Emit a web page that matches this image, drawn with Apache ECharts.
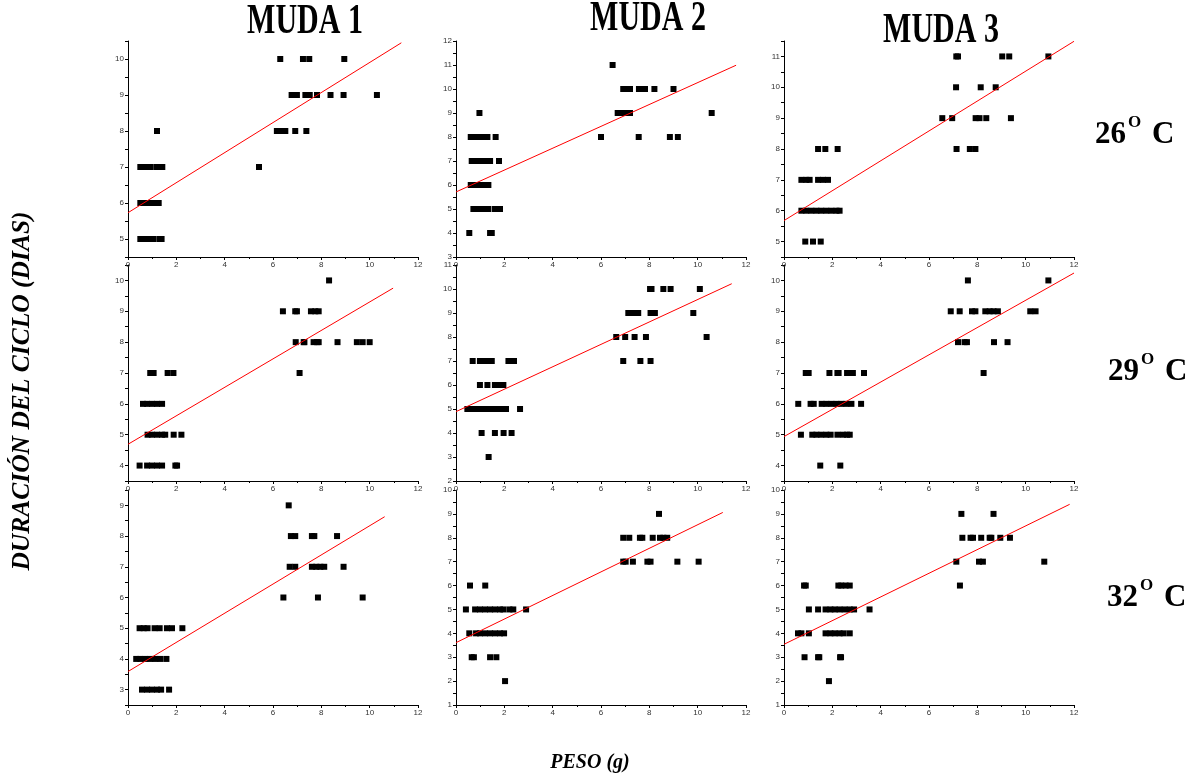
<!DOCTYPE html>
<html>
<head>
<meta charset="utf-8">
<script src="https://cdn.jsdelivr.net/npm/echarts@6/dist/echarts.min.js"></script>
<style>html,body{margin:0;padding:0;background:#fff}#c{width:1202px;height:782px}</style>
</head>
<body>
<div id="c"></div>
<script>
// ---- titles ----
const colTitles = ['MUDA 1', 'MUDA 2', 'MUDA 3'];
const rowTitles = ['26', '29', '32'];
const xTitle = 'PESO (g)';
const yTitle = 'DURACIÓN DEL CICLO (DIAS)';

// ---- axis ranges (per panel, row-major) ----
const xRange = [0, 12];
const yRanges = [[4.5, 10.5], [3, 12], [4.5, 11.5], [3.5, 10.5], [2, 11], [3.5, 10.5], [2.5, 9.5], [1, 10], [1, 10]];

// ---- data: [peso, duracion] ----
const m1t26 = [
  [6.30,10],[7.24,10],[7.50,10],[8.95,10],
  [6.77,9],[6.99,9],[7.34,9],[7.52,9],[7.82,9],[8.38,9],[8.92,9],[10.30,9],
  [1.20,8],[6.16,8],[6.30,8],[6.51,8],[6.92,8],[7.38,8],
  [0.51,7],[0.65,7],[0.79,7],[0.92,7],[1.17,7],[1.34,7],[1.42,7],[5.42,7],
  [0.51,6],[0.65,6],[0.79,6],[0.92,6],[1.06,6],[1.27,6],
  [0.51,5],[0.65,5],[0.79,5],[0.92,5],[1.06,5],[1.31,5],[1.39,5]
];
const m2t26 = [
  [6.48,11],
  [6.92,10],[7.13,10],[7.20,10],[7.57,10],[7.75,10],[7.82,10],[8.21,10],[9.00,10],
  [0.97,9],[6.69,9],[6.85,9],[6.99,9],[7.20,9],[10.58,9],
  [0.61,8],[0.79,8],[0.99,8],[1.20,8],[1.30,8],[1.64,8],[6.00,8],[7.56,8],[8.85,8],[9.18,8],
  [0.65,7],[0.86,7],[1.06,7],[1.27,7],[1.41,7],[1.78,7],
  [0.61,6],[0.79,6],[0.99,6],[1.20,6],[1.34,6],
  [0.72,5],[0.92,5],[1.13,5],[1.34,5],[1.61,5],[1.82,5],
  [0.55,4],[1.41,4],[1.48,4]
];
const m3t26 = [
  [7.13,11],[7.20,11],[9.03,11],[9.32,11],[10.94,11],
  [7.12,10],[8.14,10],[8.76,10],
  [6.55,9],[6.96,9],[7.93,9],[8.09,9],[8.37,9],[9.39,9],
  [1.41,8],[1.71,8],[2.22,8],[7.14,8],[7.69,8],[7.92,8],
  [0.72,7],[0.92,7],[1.06,7],[1.41,7],[1.61,7],[1.82,7],
  [0.72,6],[0.92,6],[1.13,6],[1.34,6],[1.54,6],[1.75,6],[1.96,6],[2.17,6],[2.30,6],
  [0.88,5],[1.20,5],[1.52,5]
];
const m1t29 = [
  [8.32,10],
  [6.41,9],[6.92,9],[6.99,9],[7.57,9],[7.75,9],[7.89,9],
  [6.94,8],[7.27,8],[7.30,8],[7.68,8],[7.82,8],[7.89,8],[8.67,8],[9.47,8],[9.71,8],[10.00,8],
  [0.92,7],[1.06,7],[1.64,7],[1.88,7],[7.10,7],
  [0.62,6],[0.79,6],[1.00,6],[1.20,6],[1.41,6],
  [0.81,5],[0.99,5],[1.20,5],[1.41,5],[1.54,5],[1.89,5],[2.21,5],
  [0.48,4],[0.79,4],[0.99,4],[1.20,4],[1.41,4],[1.96,4],[2.03,4]
];
const m2t29 = [
  [8.03,10],[8.09,10],[8.58,10],[8.88,10],[10.09,10],
  [7.13,9],[7.27,9],[7.41,9],[7.54,9],[8.05,9],[8.23,9],[9.82,9],
  [6.63,8],[7.00,8],[7.39,8],[7.86,8],[10.37,8],
  [0.69,7],[0.99,7],[1.13,7],[1.34,7],[1.48,7],[2.17,7],[2.40,7],[6.92,7],[7.63,7],[8.05,7],
  [0.99,6],[1.30,6],[1.61,6],[1.82,6],[1.96,6],
  [0.47,5],[0.65,5],[0.86,5],[1.06,5],[1.27,5],[1.48,5],[1.68,5],[1.89,5],[2.07,5],[2.65,5],
  [1.06,4],[1.61,4],[1.97,4],[2.30,4],
  [1.35,3]
];
const m3t29 = [
  [7.61,10],[10.94,10],
  [6.90,9],[7.27,9],[7.78,9],[7.92,9],[8.33,9],[8.51,9],[8.67,9],[8.85,9],[10.19,9],[10.41,9],
  [7.20,8],[7.47,8],[7.57,8],[8.69,8],[9.25,8],
  [0.90,7],[1.02,7],[1.88,7],[2.21,7],[2.26,7],[2.61,7],[2.85,7],[3.31,7],[8.26,7],
  [0.59,6],[1.10,6],[1.23,6],[1.56,6],[1.75,6],[1.96,6],[2.17,6],[2.37,6],[2.58,6],[2.79,6],[3.19,6],
  [0.70,5],[1.17,5],[1.34,5],[1.54,5],[1.75,5],[1.93,5],[2.21,5],[2.44,5],[2.61,5],[2.72,5],
  [1.50,4],[2.33,4]
];
const m1t32 = [
  [6.65,9],
  [6.74,8],[6.92,8],[7.61,8],[7.71,8],[8.65,8],
  [6.69,7],[6.92,7],[7.61,7],[7.79,7],[7.96,7],[8.12,7],[8.92,7],
  [6.43,6],[7.86,6],[9.71,6],
  [0.48,5],[0.65,5],[0.81,5],[1.10,5],[1.31,5],[1.61,5],[1.82,5],[2.25,5],
  [0.34,4],[0.51,4],[0.72,4],[0.92,4],[1.13,4],[1.34,4],[1.59,4],
  [0.58,3],[0.79,3],[0.99,3],[1.20,3],[1.37,3],[1.70,3]
];
const m2t32 = [
  [8.40,9],
  [6.92,8],[7.17,8],[7.61,8],[7.71,8],[8.14,8],[8.44,8],[8.58,8],[8.74,8],
  [6.92,7],[7.02,7],[7.32,7],[7.92,7],[8.05,7],[9.16,7],[10.04,7],
  [0.58,6],[1.21,6],
  [0.41,5],[0.79,5],[0.99,5],[1.20,5],[1.41,5],[1.61,5],[1.82,5],[1.96,5],[2.21,5],[2.37,5],[2.90,5],
  [0.55,4],[0.83,4],[0.99,4],[1.20,4],[1.41,4],[1.61,4],[1.82,4],[1.99,4],
  [0.65,3],[0.74,3],[1.41,3],[1.67,3],
  [2.03,2]
];
const m3t32 = [
  [7.34,9],[8.67,9],
  [7.38,8],[7.72,8],[7.82,8],[8.16,8],[8.51,8],[8.58,8],[8.95,8],[9.35,8],
  [7.13,7],[8.07,7],[8.23,7],[10.77,7],
  [0.83,6],[0.90,6],[2.25,6],[2.37,6],[2.55,6],[2.72,6],[7.28,6],
  [1.03,5],[1.41,5],[1.72,5],[1.92,5],[2.10,5],[2.30,5],[2.51,5],[2.72,5],[2.90,5],[3.54,5],
  [0.58,4],[0.72,4],[1.03,4],[1.72,4],[1.92,4],[2.10,4],[2.30,4],[2.47,4],[2.72,4],
  [0.85,3],[1.41,3],[1.46,3],[2.32,3],[2.36,3],
  [1.86,2]
];

// ---- fitted regression lines: [start, end] ----
const fit_m1t26 = [[0, 5.73], [11.31, 10.45]];
const fit_m2t26 = [[0, 5.71], [11.59, 10.99]];
const fit_m3t26 = [[0, 5.68], [12.0, 11.49]];
const fit_m1t29 = [[0, 4.69], [10.97, 9.75]];
const fit_m2t29 = [[0, 4.89], [11.41, 10.22]];
const fit_m3t29 = [[0, 4.94], [12.0, 10.24]];
const fit_m1t32 = [[0, 3.59], [10.62, 8.63]];
const fit_m2t32 = [[0, 3.61], [11.04, 9.06]];
const fit_m3t32 = [[0, 3.54], [11.82, 9.40]];

const panelData = [m1t26, m2t26, m3t26, m1t29, m2t29, m3t29, m1t32, m2t32, m3t32];
const panelFits = [fit_m1t26, fit_m2t26, fit_m3t26, fit_m1t29, fit_m2t29, fit_m3t29, fit_m1t32, fit_m2t32, fit_m3t32];

// ---- layout ----
const colLeft = [128, 456, 784];
const panelW = 290;
const rowTop = [41, 265, 490];
const rowH = [216, 216, 215];

const grids = [], xAxes = [], yAxes = [], series = [];
const tickLbl = { fontSize: 8, color: '#333', fontFamily: 'Liberation Sans, Arial, sans-serif' };
for (let i = 0; i < 9; i++) {
  const r = Math.floor(i / 3), c = i % 3;
  grids.push({ left: colLeft[c], top: rowTop[r], width: panelW, height: rowH[r], containLabel: false });
  xAxes.push({
    type: 'value', gridIndex: i, min: xRange[0], max: xRange[1], interval: 2,
    axisLine: { show: true, onZero: false, lineStyle: { color: '#000', width: 1 } },
    axisTick: { show: true, length: 3, lineStyle: { color: '#000' } },
    minorTick: { show: true, splitNumber: 2, length: 2, lineStyle: { color: '#000' } },
    splitLine: { show: false },
    axisLabel: Object.assign({ margin: 4, showMinLabel: true, showMaxLabel: true }, tickLbl)
  });
  yAxes.push({
    type: 'value', gridIndex: i, min: yRanges[i][0], max: yRanges[i][1], interval: 0.5,
    axisLine: { show: true, onZero: false, lineStyle: { color: '#000', width: 1 } },
    axisTick: { show: true, length: 3, lineStyle: { color: '#000' } },
    splitLine: { show: false },
    axisLabel: Object.assign({ margin: 4, showMinLabel: true, showMaxLabel: true,
      formatter: v => (Math.abs(v - Math.round(v)) < 1e-6 ? String(Math.round(v)) : '') }, tickLbl)
  });
  series.push({
    type: 'scatter', xAxisIndex: i, yAxisIndex: i, data: panelData[i],
    symbol: 'rect', symbolSize: 6, itemStyle: { color: '#000', opacity: 1 }, z: 3
  });
  series.push({
    type: 'line', xAxisIndex: i, yAxisIndex: i, data: panelFits[i],
    symbol: 'none', lineStyle: { color: '#ff0000', width: 1 }, z: 4
  });
}

const serif = '"Liberation Serif", "Times New Roman", serif';
const graphic = [];
const colTitlePos = [[305, 22], [648, 19], [941, 31]];
colTitles.forEach((t, k) => {
  graphic.push({ type: 'text', x: colTitlePos[k][0], y: colTitlePos[k][1], scaleY: 1.4,
    style: { text: t, font: 'bold 30px ' + serif, fill: '#000', textAlign: 'center', textVerticalAlign: 'middle' } });
});
const rowTitlePos = [[1095, 135], [1108, 372], [1107, 598]];
rowTitles.forEach((t, k) => {
  const [x, y] = rowTitlePos[k];
  graphic.push({ type: 'text', x: x, y: y,
    style: { text: t, font: 'bold 31px ' + serif, fill: '#000', textAlign: 'left', textVerticalAlign: 'middle' } });
  graphic.push({ type: 'text', x: x + 33, y: y - 12,
    style: { text: 'O', font: 'bold 17px ' + serif, fill: '#000', textAlign: 'left', textVerticalAlign: 'middle' } });
  graphic.push({ type: 'text', x: x + 57, y: y,
    style: { text: 'C', font: 'bold 31px ' + serif, fill: '#000', textAlign: 'left', textVerticalAlign: 'middle' } });
});
graphic.push({ type: 'text', x: 22, y: 391, rotation: Math.PI / 2,
  style: { text: yTitle, font: 'italic bold 25.5px ' + serif, fill: '#000', textAlign: 'center', textVerticalAlign: 'middle' } });
graphic.push({ type: 'text', x: 590, y: 763,
  style: { text: xTitle, font: 'italic bold 20px ' + serif, fill: '#000', textAlign: 'center', textVerticalAlign: 'middle' } });

const chart = echarts.init(document.getElementById('c'), null, { renderer: 'canvas' });
chart.setOption({
  animation: false,
  backgroundColor: '#fff',
  grid: grids, xAxis: xAxes, yAxis: yAxes, series: series, graphic: graphic
});
</script>
</body>
</html>
